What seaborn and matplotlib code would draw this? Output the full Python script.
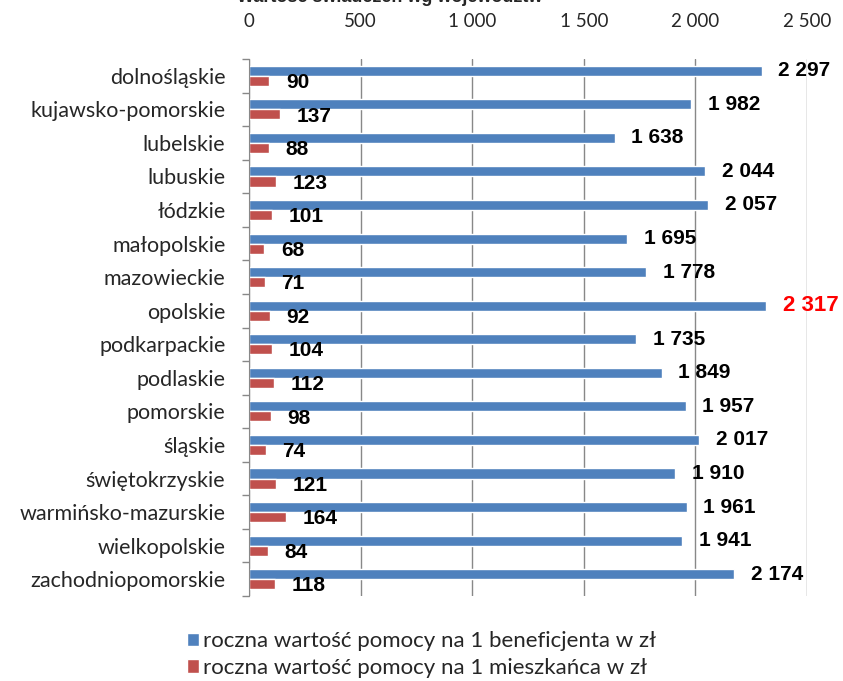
import numpy as np
import pandas as pd
import seaborn as sns
import matplotlib.pyplot as plt
from matplotlib.patches import Patch
from matplotlib.ticker import FuncFormatter, FixedLocator

regions = ['dolnośląskie', 'kujawsko-pomorskie', 'lubelskie', 'lubuskie', 'łódzkie',
           'małopolskie', 'mazowieckie', 'opolskie', 'podkarpackie', 'podlaskie',
           'pomorskie', 'śląskie', 'świętokrzyskie', 'warmińsko-mazurskie',
           'wielkopolskie', 'zachodniopomorskie']
per_beneficiary = [2297, 1982, 1638, 2044, 2057, 1695, 1778, 2317, 1735, 1849,
                   1957, 2017, 1910, 1961, 1941, 2174]
per_resident = [90, 137, 88, 123, 101, 68, 71, 92, 104, 112, 98, 74, 121, 164, 84, 118]
series_names = ['roczna wartość pomocy na 1 beneficjenta w zł',
                'roczna wartość pomocy na 1 mieszkańca w zł']
highlight = 'opolskie'

blue = '#4F81BD'
red = '#C0504D'

df = pd.DataFrame({'region': regions * 2,
                   'value': per_beneficiary + per_resident,
                   'series': [series_names[0]] * 16 + [series_names[1]] * 16})

sns.set_style('white')
plt.rcParams['font.family'] = ['Lato', 'DejaVu Sans']

fig = plt.figure(figsize=(8.43, 6.81), dpi=100)
ax = fig.add_axes([249 / 843, 1 - 596 / 681, (807 - 249) / 843, (596 - 59) / 681])

sns.barplot(data=df, y='region', x='value', hue='series', orient='h',
            palette=[blue, red], width=0.6, gap=0.0, ax=ax, legend=False,
            saturation=1)

ax.set_xlim(0, 2500)
ax.set_ylim(15.5, -0.5)
ax.xaxis.tick_top()
ax.set_xticks([0, 500, 1000, 1500, 2000, 2500])
ax.xaxis.set_major_formatter(FuncFormatter(lambda v, p: f'{int(v):,}'.replace(',', ' ')))
ax.tick_params(axis='x', length=0, labelsize=13.5, pad=21)
ax.tick_params(axis='y', which='major', length=0, labelsize=15.5, pad=17)
ax.yaxis.set_minor_locator(FixedLocator(np.arange(-0.5, 16, 1)))
ax.tick_params(axis='y', which='minor', length=5, color='#888888', width=1, left=True)
ax.set_xlabel('')
ax.set_ylabel('')
ax.grid(axis='x', color='#888888', linewidth=1)
ax.set_axisbelow(True)
for s in ['top', 'right', 'bottom']:
    ax.spines[s].set_visible(False)
ax.spines['left'].set_color('#888888')

# data labels
for i, (r, b, m) in enumerate(zip(regions, per_beneficiary, per_resident)):
    lab = f'{b:,}'.replace(',', ' ')
    if r == highlight:
        ax.annotate(lab, (b, i - 0.15), xytext=(12, 0), textcoords='offset points',
                    va='center', ha='left', fontsize=16, fontweight='bold',
                    color='#FF0000', family='Liberation Sans', annotation_clip=False)
    else:
        ax.annotate(lab, (b, i - 0.15), xytext=(12, 0), textcoords='offset points',
                    va='center', ha='left', fontsize=15, fontweight='bold',
                    color='black', family='Liberation Sans', annotation_clip=False)
    ax.annotate(str(m), (m, i + 0.2), xytext=(12, 0), textcoords='offset points',
                va='center', ha='left', fontsize=15, fontweight='bold',
                color='black', family='Liberation Sans')

# title (cut off at the top of the image)
fig.text(390 / 843, 1 - 1.5 / 681, 'Wartość świadczeń wg województw', ha='center',
         va='baseline', fontsize=13, fontweight='bold', family='Liberation Sans')

handles = [Patch(facecolor=blue), Patch(facecolor=red)]
fig.legend(handles, series_names, loc='upper center', bbox_to_anchor=(0.5, 1 - 620 / 681),
           frameon=False, fontsize=16, handlelength=0.55, handleheight=0.55,
           handletextpad=0.15, labelspacing=0.3, borderpad=0)

fig.savefig('out.png', dpi=100)
